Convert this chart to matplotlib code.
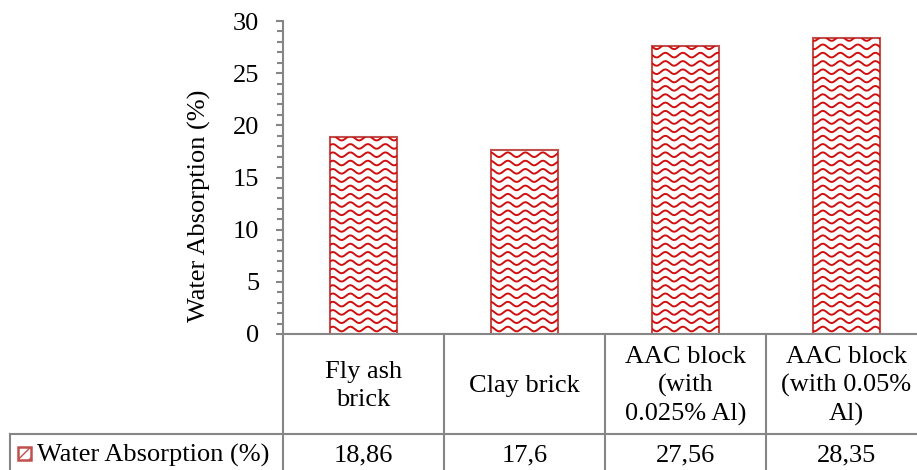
import matplotlib.pyplot as plt
import numpy as np
from matplotlib.patches import Rectangle
from matplotlib.transforms import blended_transform_factory
from matplotlib.ticker import MultipleLocator

plt.rcParams['font.family'] = ['Liberation Serif', 'DejaVu Serif']

categories = ['Fly ash\nbrick', 'Clay brick', 'AAC block\n(with\n0.025% Al)',
              'AAC block\n(with 0.05%\nAl)']
values = [18.86, 17.6, 27.56, 28.35]
value_labels = ['18,86', '17,6', '27,56', '28,35']
series_name = 'Water Absorption (%)'

W, H = 917, 470
fig = plt.figure(figsize=(W / 100, H / 100), dpi=100)

# plot area in pixels: left 283, top 21, bottom 334; last column runs past the edge
ax = fig.add_axes([283 / W, (H - 334) / H, 644 / W, 313 / H])
ax.set_xlim(-0.5, 3.5)
ax.set_ylim(0, 30)

grey = '#868686'
edge = '#C0504D'
wave = '#D01010'
fs = 19

bars = ax.bar(range(len(values)), values, width=0.41, color='white',
              edgecolor=edge, linewidth=1.5, zorder=2)

# wavy fill pattern, clipped to each bar
dx = 4 / 644          # data units per pixel
dy = 30 / 313
period, step, amp = 17.5 * dx, 8.3 * dy, 2.3 * dy
xs = np.linspace(-0.5, 3.5, 2000)
for b in bars:
    for y0 in np.arange(step * 0.6, 31, step):
        ln, = ax.plot(xs, y0 + amp * np.sin(2 * np.pi * xs / period), color=wave,
                      lw=1.4, zorder=3)
        ln.set_clip_path(b)

for s in ['top', 'right']:
    ax.spines[s].set_visible(False)
for s in ['left', 'bottom']:
    ax.spines[s].set_color(grey)
    ax.spines[s].set_linewidth(1.5)

ax.set_xticks([])
ax.yaxis.set_major_locator(MultipleLocator(5))
ax.yaxis.set_minor_locator(MultipleLocator(1))
ax.tick_params(axis='y', which='both', direction='out', color=grey, width=1.5,
               labelsize=fs, pad=12)
ax.tick_params(axis='y', which='major', length=5)
ax.tick_params(axis='y', which='minor', length=4)

fig.text(199 / W, (H - 206) / H, series_name, fontsize=fs, rotation=90,
         ha='center', va='center')

# data table below the plot
tr = blended_transform_factory(ax.transData, fig.transFigure)
y_axis = (H - 334) / H
y_row = (H - 434) / H
for i in range(len(values) + 1):
    ax.plot([i - 0.5, i - 0.5], [0, y_axis], transform=tr, color=grey, lw=1.5,
            clip_on=False)
fig.add_artist(plt.Line2D([10 / W, 1], [y_row, y_row], color=grey, lw=1.5))
fig.add_artist(plt.Line2D([10 / W, 10 / W], [0, y_row], color=grey, lw=1.5))

for i, (cat, lab) in enumerate(zip(categories, value_labels)):
    ax.text(i, (H - 386) / H, cat, transform=tr, ha='center', va='center',
            fontsize=fs, linespacing=1.35, clip_on=False)
    ax.text(i, (H - 455) / H, lab, transform=tr, ha='center', va='center',
            fontsize=fs, clip_on=False)

# legend key in the table row header
key = Rectangle((18 / W, (H - 460) / H), 13 / W, 13 / H, transform=fig.transFigure,
                facecolor='white', edgecolor=edge, lw=1.8, hatch='///')
fig.add_artist(key)
fig.text(37 / W, (H - 455) / H, series_name, fontsize=fs, ha='left', va='center')

fig.savefig('out.png', dpi=100)
